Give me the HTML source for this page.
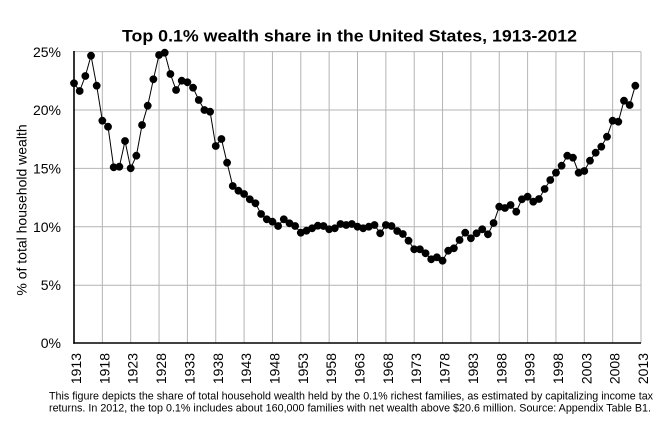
<!DOCTYPE html>
<html>
<head>
<meta charset="utf-8">
<style>
html,body{margin:0;padding:0;background:#fff;}
svg{display:block;}
text{font-family:"Liberation Sans",Arial,sans-serif;fill:#000;}
</style>
</head>
<body>
<svg width="669" height="424" viewBox="0 0 669 424" xmlns="http://www.w3.org/2000/svg">
<defs>
<marker id="dot" markerUnits="userSpaceOnUse" markerWidth="10" markerHeight="10" refX="5" refY="5" viewBox="0 0 10 10">
<circle cx="5" cy="5" r="3.9" fill="#000"/>
</marker>
</defs>
<rect width="669" height="424" fill="#fff"/>
<text x="122" y="41.5" font-size="17" font-weight="bold" textLength="455" lengthAdjust="spacingAndGlyphs">Top 0.1% wealth share in the United States, 1913-2012</text>

<g stroke="#b4b4b4" stroke-width="1" fill="none">
<line x1="74" y1="51.6" x2="641" y2="51.6"/>
<line x1="74" y1="110" x2="641" y2="110"/>
<line x1="74" y1="168.4" x2="641" y2="168.4"/>
<line x1="74" y1="226.8" x2="641" y2="226.8"/>
<line x1="74" y1="285.2" x2="641" y2="285.2"/>
<line x1="102.35" y1="51.6" x2="102.35" y2="343"/>
<line x1="130.7" y1="51.6" x2="130.7" y2="343"/>
<line x1="159.05" y1="51.6" x2="159.05" y2="343"/>
<line x1="187.4" y1="51.6" x2="187.4" y2="343"/>
<line x1="215.75" y1="51.6" x2="215.75" y2="343"/>
<line x1="244.1" y1="51.6" x2="244.1" y2="343"/>
<line x1="272.45" y1="51.6" x2="272.45" y2="343"/>
<line x1="300.8" y1="51.6" x2="300.8" y2="343"/>
<line x1="329.15" y1="51.6" x2="329.15" y2="343"/>
<line x1="357.5" y1="51.6" x2="357.5" y2="343"/>
<line x1="385.85" y1="51.6" x2="385.85" y2="343"/>
<line x1="414.2" y1="51.6" x2="414.2" y2="343"/>
<line x1="442.55" y1="51.6" x2="442.55" y2="343"/>
<line x1="470.9" y1="51.6" x2="470.9" y2="343"/>
<line x1="499.25" y1="51.6" x2="499.25" y2="343"/>
<line x1="527.6" y1="51.6" x2="527.6" y2="343"/>
<line x1="555.95" y1="51.6" x2="555.95" y2="343"/>
<line x1="584.3" y1="51.6" x2="584.3" y2="343"/>
<line x1="612.65" y1="51.6" x2="612.65" y2="343"/>
<line x1="641" y1="51.6" x2="641" y2="343"/>
</g>
<g stroke="#000" stroke-width="1.6">
<line x1="74" y1="51" x2="74" y2="343.8"/>
<line x1="73.2" y1="343" x2="641" y2="343"/>
</g>

<g font-size="14" text-anchor="end">
<text x="61" y="57">25%</text>
<text x="61" y="115">20%</text>
<text x="61" y="173.4">15%</text>
<text x="61" y="231.8">10%</text>
<text x="61" y="290.2">5%</text>
<text x="61" y="348">0%</text>
</g>

<text transform="translate(26.7,210) rotate(-90)" font-size="14" text-anchor="middle">% of total household wealth</text>

<g font-size="14" text-anchor="end">
<text transform="translate(81,353) rotate(-90)">1913</text>
<text transform="translate(109.35,353) rotate(-90)">1918</text>
<text transform="translate(137.7,353) rotate(-90)">1923</text>
<text transform="translate(166.05,353) rotate(-90)">1928</text>
<text transform="translate(194.4,353) rotate(-90)">1933</text>
<text transform="translate(222.75,353) rotate(-90)">1938</text>
<text transform="translate(251.1,353) rotate(-90)">1943</text>
<text transform="translate(279.45,353) rotate(-90)">1948</text>
<text transform="translate(307.8,353) rotate(-90)">1953</text>
<text transform="translate(336.15,353) rotate(-90)">1958</text>
<text transform="translate(364.5,353) rotate(-90)">1963</text>
<text transform="translate(392.85,353) rotate(-90)">1968</text>
<text transform="translate(421.2,353) rotate(-90)">1973</text>
<text transform="translate(449.55,353) rotate(-90)">1978</text>
<text transform="translate(477.9,353) rotate(-90)">1983</text>
<text transform="translate(506.25,353) rotate(-90)">1988</text>
<text transform="translate(534.6,353) rotate(-90)">1993</text>
<text transform="translate(562.95,353) rotate(-90)">1998</text>
<text transform="translate(591.3,353) rotate(-90)">2003</text>
<text transform="translate(619.65,353) rotate(-90)">2008</text>
<text transform="translate(648,353) rotate(-90)">2013</text>
</g>

<polyline fill="none" stroke="#000" stroke-width="1" marker-start="url(#dot)" marker-mid="url(#dot)" marker-end="url(#dot)" points="
74,83.3 79.67,91 85.34,76 91.01,55.7 96.68,85.7 102.35,120.7 108.02,126.7 113.69,167.3 119.36,166.7 125.03,141
130.7,168.3 136.37,155.7 142.04,125 147.71,105.7 153.38,79.3 159.05,55 164.72,52.7 170.39,74 176.06,90 181.73,80.7
187.4,82.3 193.07,87.7 198.74,100 204.41,110 210.08,111.7 215.75,146 221.42,139 227.09,162.7 232.76,186 238.43,190.7
244.1,194 249.77,199.3 255.44,203.3 261.11,214 266.78,219.3 272.45,221.7 278.12,226 283.79,219.3 289.46,223.3 295.13,226
300.8,232.7 306.47,230.7 312.14,228.3 317.81,225.7 323.48,226 329.15,229.3 334.82,228.3 340.49,224 346.16,225 351.83,224
357.5,226.7 363.17,228.3 368.84,226.7 374.51,225 380.18,233.3 385.85,225 391.52,226 397.19,231 402.86,234 408.53,240.7
414.2,249.3 419.87,249.3 425.54,253.3 431.21,259.3 436.88,257.3 442.55,260.7 448.22,250.7 453.89,248.3 459.56,240 465.23,232.7
470.9,238.3 476.57,233.3 482.24,229.3 487.91,234.3 493.58,223 499.25,206.7 504.92,208 510.59,205 516.26,211.7 521.93,199.3
527.6,196.7 533.27,201.7 538.94,199 544.61,189 550.28,180 555.95,172.7 561.62,165.7 567.29,155.7 572.96,157.7 578.63,172.7
584.3,171 589.97,160.7 595.64,152.7 601.31,146.7 606.98,136.7 612.65,120.7 618.32,121.7 623.99,100.7 629.66,105 635.33,85.7"/>

<text x="49" y="399.5" font-size="11" textLength="604" lengthAdjust="spacingAndGlyphs">This figure depicts the share of total household wealth held by the 0.1% richest families, as estimated by capitalizing income tax</text>
<text x="49" y="411.5" font-size="11" textLength="602" lengthAdjust="spacingAndGlyphs">returns. In 2012, the top 0.1% includes about 160,000 families with net wealth above $20.6 million. Source: Appendix Table B1.</text>
</svg>
</body>
</html>
